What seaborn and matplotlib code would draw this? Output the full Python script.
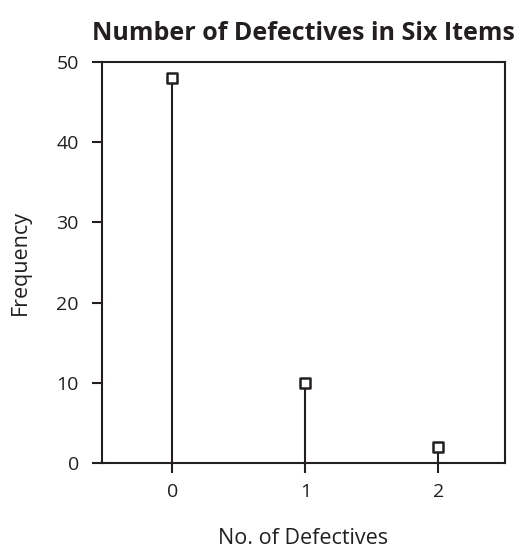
import pandas as pd
import matplotlib.pyplot as plt
import seaborn as sns

# dane z wykresu
liczba_wadliwych = [0, 1, 2]
czestosc = [48, 10, 2]

dane = pd.DataFrame({'wadliwe': liczba_wadliwych, 'czestosc': czestosc})

sns.set_style('ticks')
plt.rcParams['font.family'] = ['Open Sans', 'DejaVu Sans']

fig = plt.figure(figsize=(5.22, 5.52), dpi=100)
ax = fig.add_axes([0.195, 0.161, 0.772, 0.727])

# linie pionowe (stem)
ax.vlines(dane['wadliwe'], 0, dane['czestosc'], color='#231f20', linewidth=1.5, zorder=2)
sns.scatterplot(data=dane, x='wadliwe', y='czestosc', marker='s', s=45,
                facecolor='white', edgecolor='#231f20', linewidth=1.8, ax=ax, zorder=3)

ax.set_xlim(-0.53, 2.5)
ax.set_ylim(0, 50)
ax.set_xticks(liczba_wadliwych)
ax.set_yticks([0, 10, 20, 30, 40, 50])

for s in ax.spines.values():
    s.set_color('#231f20')
    s.set_linewidth(1.5)
ax.tick_params(axis='both', direction='out', length=7.5, width=1.5, color='#231f20',
               labelsize=14, labelcolor='#231f20')
ax.tick_params(axis='y', pad=9)
ax.tick_params(axis='x', pad=7)

ax.set_xlabel('No. of Defectives', fontsize=15.5, color='#231f20', labelpad=19)
ax.set_ylabel('Frequency', fontsize=15.5, color='#231f20', labelpad=18)
ax.set_title('Number of Defectives in Six Items', fontsize=18, fontweight='bold',
             color='#231f20', pad=16)

fig.savefig('out.png', dpi=100)
